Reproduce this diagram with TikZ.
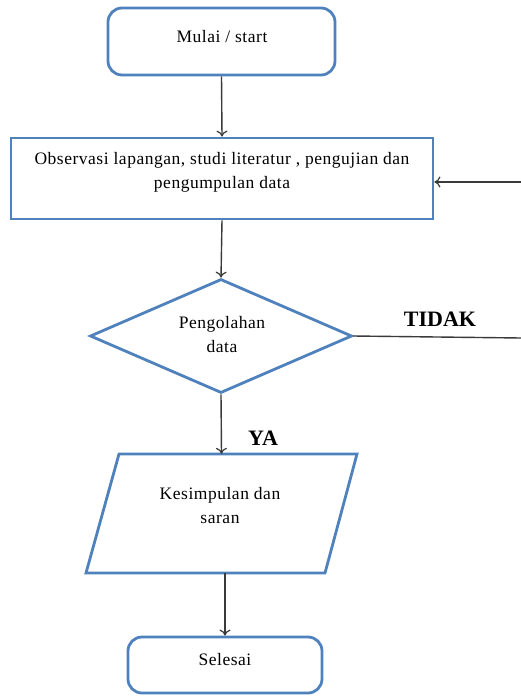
\documentclass[tikz,border=0pt]{standalone}
\usepackage{fontspec}
\setmainfont{Liberation Serif}
\newfontfamily\spacedserif[LetterSpace=3]{Liberation Serif}
\usetikzlibrary{shapes.geometric,arrows.meta}
\definecolor{boxblue}{HTML}{4F81BD}
\definecolor{arrowgray}{HTML}{3A3A3A}
\begin{document}
\begin{tikzpicture}[x=1pt,y=-1pt,
  shapeline/.style={draw=boxblue,line width=2.8pt},
  startbox/.style={shapeline,rectangle,rounded corners=14pt,inner sep=0pt},
  procbox/.style={shapeline,rectangle,inner sep=0pt},
  decbox/.style={shapeline,diamond,inner sep=0pt},
  ghost/.style={rectangle,draw=none,inner sep=0pt},
  txt/.style={font=\spacedserif\fontsize{17.5}{24}\selectfont,align=center,inner sep=0pt},
  lbl/.style={font=\fontsize{22}{24}\selectfont\bfseries,inner sep=0pt},
  conn/.style={draw=arrowgray,line width=1.4pt},
  arr/.style={conn,-{To[length=6pt,width=11pt,line width=1.2pt]}}]
\useasboundingbox (0,0) rectangle (521,696);
% nodes
\node[startbox,minimum width=227pt,minimum height=67pt] (start) at (221.5,41.5) {};
\node[txt] (starttxt) at (222,37) {Mulai / start};
\node[procbox,minimum width=422pt,minimum height=81pt] (obs) at (222,178.5) {};
\node[txt] (obstxt) at (222,172) {Observasi lapangan, studi literatur , pengujian dan\\pengumpulan data};
\node[decbox,minimum width=262pt,minimum height=114pt] (dec) at (221,336) {};
\node[txt] (dectxt) at (222,335) {Pengolahan\\data};
\node[ghost,minimum width=239pt,minimum height=119pt] (par) at (221.5,513.5) {};
\draw[shapeline,line join=miter] (119,454) -- (357,454) -- (325,573) -- (86,573) -- cycle;
\node[txt] (partxt) at (220,506) {Kesimpulan dan\\saran};
\node[startbox,minimum width=194pt,minimum height=56pt] (end) at (225,665) {};
\node[txt] (endtxt) at (225,660) {Selesai};
% connectors
\draw[arr] (start.south) -- (obs.north);
\draw[arr] (obs.south) -- (dec.north);
\draw[arr] (dec.south) -- (par.north);
\draw[arr] (par.south -| end.north) -- (end.north);
\coordinate (rdec) at (521,338);
\coordinate (robs) at (521,182);
\draw[conn] (dec.east) -- (rdec);
\draw[arr] (robs) -- (obs.east |- robs);
% labels
\node[lbl] (tidak) at (440,319) {TIDAK};
\node[lbl] (ya) at (263,438) {YA};
\end{tikzpicture}
\end{document}
